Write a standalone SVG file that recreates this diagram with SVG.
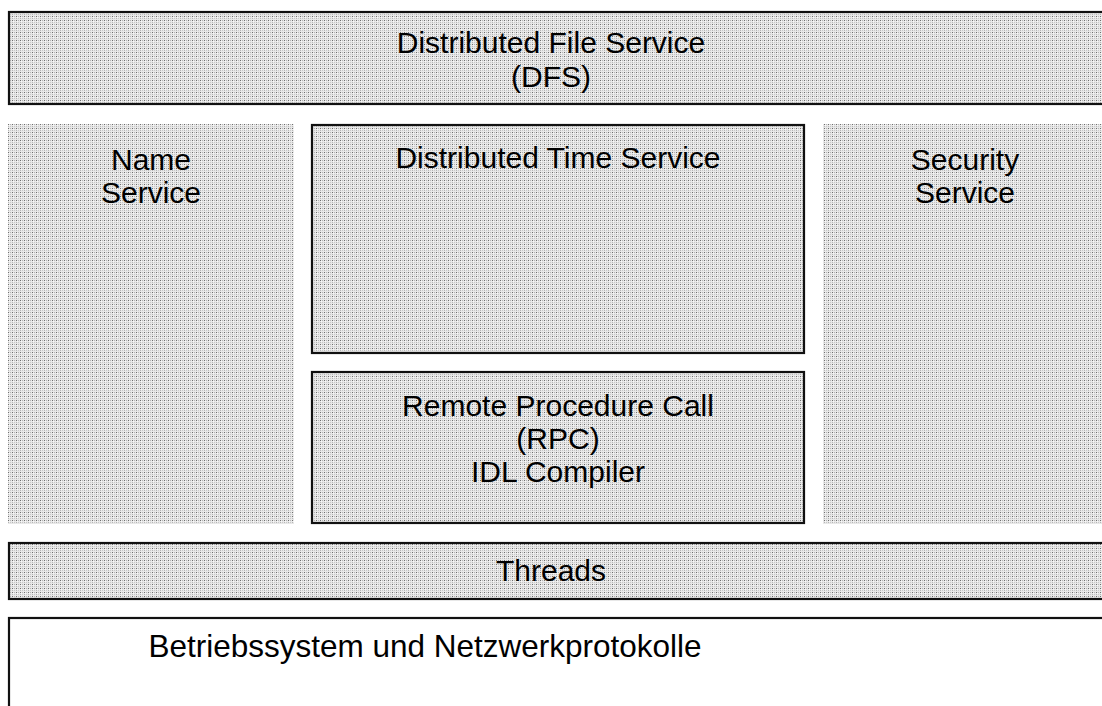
<svg xmlns="http://www.w3.org/2000/svg" width="1102" height="706" viewBox="0 0 1102 706">
<style>
text{font-family:"Liberation Sans",Arial,sans-serif;font-size:30px;fill:#000;text-anchor:middle}
.b{stroke:#111;stroke-width:2.2}
.n{stroke:none}
</style>
<defs>
<pattern id="dots" width="4" height="4" patternUnits="userSpaceOnUse">
<rect width="4" height="4" fill="#e8e8e8"/>
<rect x="0" y="0" width="1" height="1" fill="#6e6e6e"/>
<rect x="2" y="0" width="1" height="1" fill="#b5b5b5"/>
<rect x="0" y="2" width="1" height="1" fill="#b5b5b5"/>
<rect x="2" y="2" width="1" height="1" fill="#cacaca"/>
<rect x="1" y="1" width="1" height="1" fill="#f8f8f8"/>
</pattern>
</defs>
<rect width="1102" height="706" fill="#fff"/>
<g id="dfs">
<rect class="b" x="9" y="12" width="1100" height="92" fill="url(#dots)"/>
<text x="551" y="53">Distributed File Service</text>
<text x="551" y="87">(DFS)</text>
</g>
<g id="name">
<rect class="n" x="8" y="124" width="286" height="400" fill="url(#dots)"/>
<text x="151" y="170">Name</text>
<text x="151" y="203">Service</text>
</g>
<g id="time">
<rect class="b" x="312" y="125" width="492" height="228" fill="url(#dots)"/>
<text x="558" y="168">Distributed Time Service</text>
</g>
<g id="rpc">
<rect class="b" x="312" y="372" width="492" height="151" fill="url(#dots)"/>
<text x="558" y="416">Remote Procedure Call</text>
<text x="558" y="449">(RPC)</text>
<text x="558" y="482">IDL Compiler</text>
</g>
<g id="security">
<rect class="n" x="823" y="124" width="290" height="400" fill="url(#dots)"/>
<text x="965" y="170">Security</text>
<text x="965" y="203">Service</text>
</g>
<g id="threads">
<rect class="b" x="9" y="543" width="1100" height="56" fill="url(#dots)"/>
<text x="551" y="581">Threads</text>
</g>
<g id="os">
<rect class="b" x="9" y="618" width="1100" height="100" fill="#fff"/>
<text x="425" y="657" style="font-size:31.5px">Betriebssystem und Netzwerkprotokolle</text>
</g>
<g id="connectors"></g>
</svg>
